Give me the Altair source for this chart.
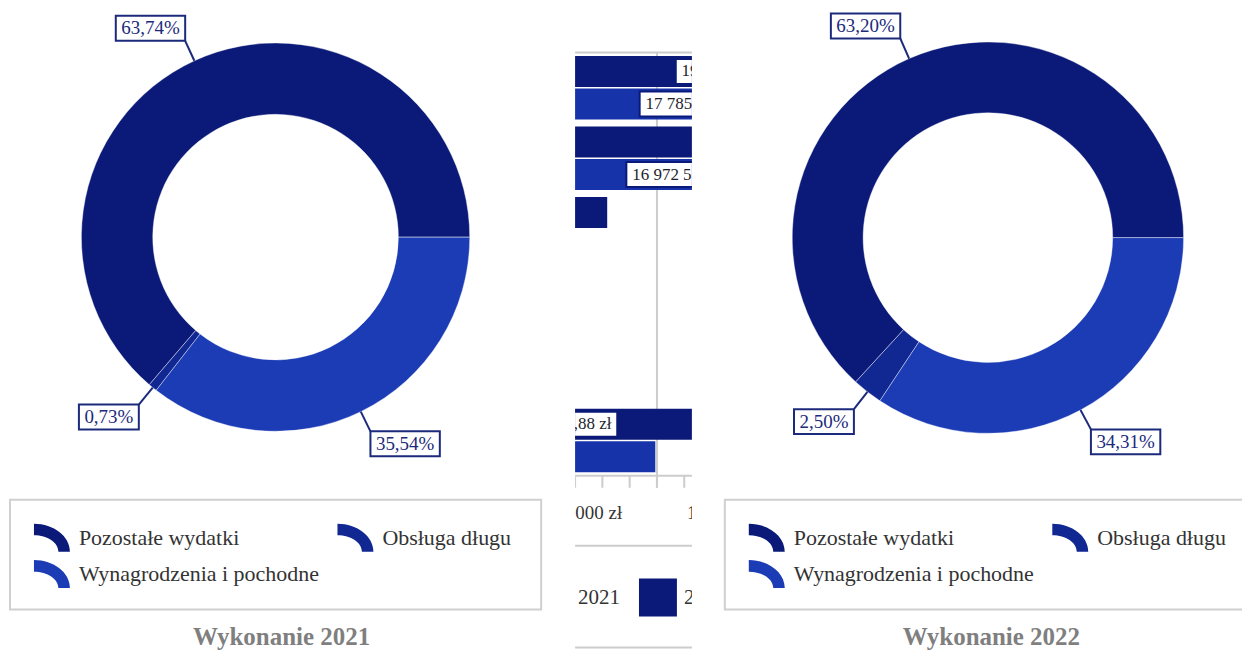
import math
import altair as alt
import pandas as pd

# ---------------- data ----------------
CATEGORIES = ["Pozostałe wydatki", "Obsługa długu", "Wynagrodzenia i pochodne"]
SHARE_2021 = [63.74, 0.73, 35.54]
SHARE_2022 = [63.20, 2.50, 34.31]
SLICE_ORDER = [2, 1, 0]          # drawn clockwise from 3 o'clock
LEGEND_COL = [0, 1, 0]
LEGEND_ROW = [0, 0, 1]
PANEL_TITLES = ["Wykonanie 2021", "Wykonanie 2022"]

BAR_GROUPS = ["G1", "G2", "G3", "G4", "G5", "G6"]
BAR_SERIES = ["2022", "2021"]
BAR_2022 = [19990215.40, 23104870.12, 5980447.19, 0, 0, 8993140.88]
BAR_2021 = [17785430.26, 16972517.63, 0, 0, 0, 7450120.55]
BAR_LABEL_2022 = ["19 990 215,40 zł", "23 104 870,12 zł", "5 980 447,19 zł", "", "", "8 993 140,88 zł"]
BAR_LABEL_2021 = ["17 785 430,26 zł", "16 972 517,63 zł", "", "", "", ""]
AXIS_VALUES = [5_000_000, 10_000_000]
AXIS_LABELS = ["5 000 000 zł", "10 000 000 zł"]
GRID_VALUES = [7_500_000]
LEGEND_SERIES = ["2021", "2022"]

# ---------------- style ----------------
SERIF = "Liberation Serif"
COLORS = ["#0b1a78", "#112792", "#1c3cb5"]
NAVY = "#0b1a78"
BAR_BLUE = "#1733aa"
LABEL_NAVY = "#1c2a7c"
GRID = "#cccccc"
H = 645
ICON = "M -1 -0.778 A 2 1.556 0 0 1 1 0.778 L 0.36 0.778 A 1.36 0.916 0 0 0 -1 -0.138 Z"


def donut_panel(shares, title, width, cx, cy, R, r, dx, title_x):
    df = pd.DataFrame({"cat": CATEGORIES, "value": shares, "o": SLICE_ORDER,
                       "col": LEGEND_COL, "row": LEGEND_ROW})
    base = alt.Chart(df)
    color = alt.Color("cat:N", scale=alt.Scale(domain=CATEGORIES, range=COLORS), legend=None)

    arcs = base.mark_arc(outerRadius=R, innerRadius=r, stroke="white",
                         strokeWidth=1, strokeOpacity=0.4).encode(
        theta=alt.Theta("value:Q", stack=True,
                        scale=alt.Scale(range=[math.pi / 2, math.pi / 2 + 2 * math.pi])),
        order=alt.Order("o:Q", sort="ascending"),
        color=color,
        x=alt.value(cx), y=alt.value(cy))

    RL = R + 22
    lab = (base
           .transform_window(cum="sum(value)", sort=[alt.SortField("o", order="ascending")])
           .transform_joinaggregate(total="sum(value)")
           .transform_calculate(mid="PI/2 + 2*PI*(datum.cum - datum.value/2)/datum.total")
           .transform_calculate(s="sin(datum.mid)", c="cos(datum.mid)",
                                lbl="replace(format(datum.value, '.2f'), '.', ',') + '%'")
           .transform_calculate(sx=f"{cx} + {R}*datum.s", sy=f"{cy} - {R}*datum.c",
                                ax=f"{cx} + {RL}*datum.s", ay=f"{cy} - {RL}*datum.c",
                                w="9.5*length(datum.lbl) + 12.5")
           .transform_calculate(bx="datum.s > 0 ? datum.ax : datum.ax - datum.w",
                                by="datum.c > 0 ? datum.ay - 25 : datum.ay")
           .transform_calculate(bx2="datum.bx + datum.w", by2="datum.by + 25",
                                tx="datum.bx + datum.w/2", ty="datum.by + 12.5"))
    leaders = lab.mark_rule(color=LABEL_NAVY, strokeWidth=2).encode(
        x=alt.X("sx:Q", scale=None), y=alt.Y("sy:Q", scale=None), x2="ax:Q", y2="ay:Q")
    boxes = lab.mark_rect(fill="white", stroke=LABEL_NAVY, strokeWidth=2).encode(
        x=alt.X("bx:Q", scale=None), x2="bx2:Q", y=alt.Y("by:Q", scale=None), y2="by2:Q")
    texts = lab.mark_text(font=SERIF, fontSize=19, color=LABEL_NAVY,
                          align="center", baseline="middle").encode(
        x=alt.X("tx:Q", scale=None), y=alt.Y("ty:Q", scale=None), text="lbl:N")

    legbox = alt.Chart(pd.DataFrame({"b": [0]})).mark_rect(
        fill="white", stroke="#d0d0d0", strokeWidth=2, clip=True).encode(
        x=alt.value(2 + dx), x2=alt.value(534 + dx), y=alt.value(492), y2=alt.value(602))
    leg = base.transform_calculate(ix=f"{44 + dx} + datum.col*304",
                                   iy="530 + datum.row*36.5",
                                   lx=f"{71 + dx} + datum.col*304")
    icons = leg.mark_point(shape=ICON, filled=True, size=1296, opacity=1,
                           strokeWidth=0, clip=True).encode(
        x=alt.X("ix:Q", scale=None), y=alt.Y("iy:Q", scale=None), color=color)
    ltext = leg.mark_text(font=SERIF, fontSize=22, color="#333333", align="left",
                          baseline="middle", clip=True).encode(
        x=alt.X("lx:Q", scale=None), y=alt.Y("iy:Q", scale=None), text="cat:N")
    ttl = alt.Chart(pd.DataFrame({"t": [title]})).mark_text(
        font=SERIF, fontSize=25, fontWeight="bold", color="#7f7f7f",
        align="center", baseline="alphabetic").encode(
        x=alt.value(title_x), y=alt.value(638), text="t:N")

    return alt.layer(arcs, leaders, boxes, texts, legbox, icons, ltext, ttl).properties(
        width=width, height=H)


# ---------------- middle (cropped bar chart) ----------------
MW = 117
PXPU = 32.8e-6
XMIN = 5e6
XMAX = XMIN + MW / PXPU
TICK_VALUES = [XMIN + k * 5e6 / 6 for k in range(6)]

bars_df = pd.DataFrame({
    "group": BAR_GROUPS * 2,
    "series": ["2022"] * 6 + ["2021"] * 6,
    "value": BAR_2022 + BAR_2021,
    "label": BAR_LABEL_2022 + BAR_LABEL_2021,
})
xsc = alt.Scale(domain=[XMIN, XMAX], nice=False, zero=False)
ysc = alt.Scale(domain=BAR_GROUPS, range=[44, 468], paddingInner=0.1, paddingOuter=0.05)
yoff = alt.YOffset("series:N", scale=alt.Scale(domain=BAR_SERIES, paddingInner=0.05))
scolor = alt.Color("series:N", scale=alt.Scale(domain=["2021", "2022"], range=[BAR_BLUE, NAVY]),
                   legend=None)

bars = alt.Chart(bars_df).mark_bar(clip=True).encode(
    x=alt.X("value:Q", scale=xsc, axis=None),
    y=alt.Y("group:N", scale=ysc, axis=None),
    yOffset=yoff, color=scolor)

BL_FONT = 17
blab = (alt.Chart(bars_df).transform_filter("datum.label != ''")
        .transform_calculate(mid="datum.value/2",
                             hw=f"({BL_FONT / 2}*length(datum.label) - 10)/2/{PXPU}")
        .transform_calculate(lo="datum.mid - datum.hw", hi="datum.mid + datum.hw"))
lbox = blab.mark_bar(size=25, fill="white", stroke=NAVY, strokeWidth=2, clip=True).encode(
    x=alt.X("lo:Q", scale=xsc, axis=None), x2="hi:Q",
    y=alt.Y("group:N", scale=ysc, axis=None), yOffset=yoff)
ltxt = blab.mark_text(font=SERIF, fontSize=BL_FONT, color="#1e1e2e", baseline="middle",
                      clip=True).encode(
    x=alt.X("mid:Q", scale=xsc, axis=None),
    y=alt.Y("group:N", scale=ysc, axis=None), yOffset=yoff, text="label:N")


def hline(y):
    return alt.Chart(pd.DataFrame({"d": [0]})).mark_rule(color=GRID, strokeWidth=2).encode(
        x=alt.value(0), x2=alt.value(MW), y=alt.value(y))


grid = alt.Chart(pd.DataFrame({"v": GRID_VALUES})).mark_rule(
    color=GRID, strokeWidth=2, clip=True).encode(
    x=alt.X("v:Q", scale=xsc, axis=None), y=alt.value(44), y2=alt.value(480))
ticks = alt.Chart(pd.DataFrame({"v": TICK_VALUES})).mark_rule(
    color=GRID, strokeWidth=2, clip=True).encode(
    x=alt.X("v:Q", scale=xsc, axis=None), y=alt.value(468), y2=alt.value(480))
axlab = alt.Chart(pd.DataFrame({"v": AXIS_VALUES, "t": AXIS_LABELS})).mark_text(
    font=SERIF, fontSize=19, color="#333333", baseline="middle", clip=True).encode(
    x=alt.X("v:Q", scale=xsc, axis=None), y=alt.value(505), text="t:N")

leg_df = pd.DataFrame({"series": LEGEND_SERIES, "i": list(range(len(LEGEND_SERIES)))})
lsq = alt.Chart(leg_df).transform_calculate(px="-23 + datum.i*106").mark_point(
    shape="square", filled=True, size=1444, opacity=1, strokeWidth=0, clip=True).encode(
    x=alt.X("px:Q", scale=None), y=alt.value(590), color=scolor)
ltx = alt.Chart(leg_df).transform_calculate(px="3 + datum.i*106").mark_text(
    font=SERIF, fontSize=21, color="#333333", align="left", baseline="middle", clip=True).encode(
    x=alt.X("px:Q", scale=None), y=alt.value(590), text="series:N")

middle = alt.layer(grid, bars, lbox, ltxt, hline(44), hline(468), ticks, axlab,
                   hline(538), lsq, ltx, hline(640)).properties(width=MW, height=H)

left = donut_panel(SHARE_2021, PANEL_TITLES[0], 540, 268, 229, 194.5, 123, 0, 274)
right = donut_panel(SHARE_2022, PANEL_TITLES[1], 523, 268.5, 229.5, 196, 125, 3, 272)

chart = (alt.hconcat(left, middle, right, spacing=27)
         .resolve_scale(color="independent", theta="independent")
         .properties(padding=0)
         .configure_view(stroke=None))

chart.save("out.html", embed_options={"renderer": "svg", "actions": False})
